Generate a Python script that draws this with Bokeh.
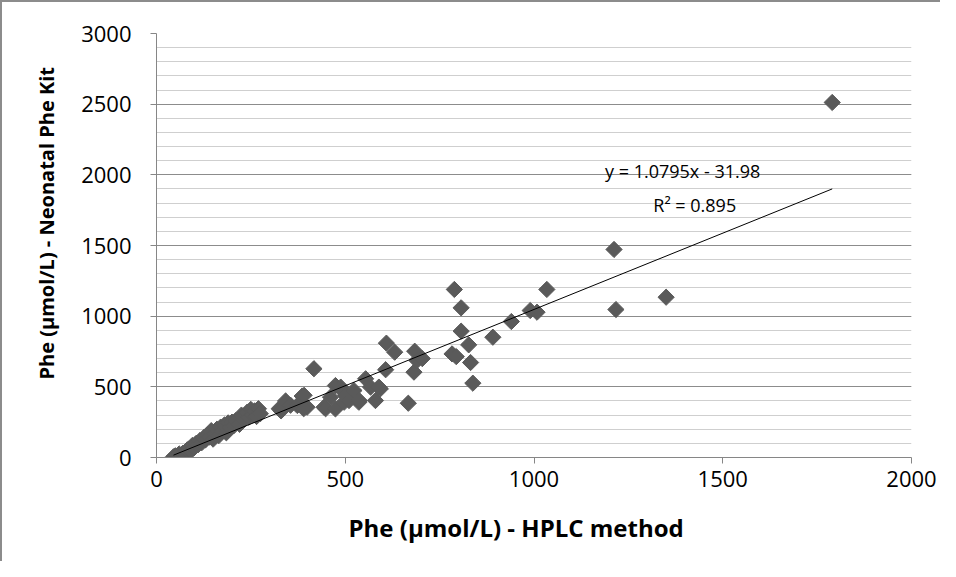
import numpy as np
from bokeh.plotting import figure
from bokeh.models import SingleIntervalTicker, Range1d, Label, InlineStyleSheet, Title
from bokeh.embed import file_html
from bokeh.resources import INLINE

# HPLC method (x) vs Neonatal Phe Kit (y), µmol/L
hplc = [45, 50, 55, 60, 65, 70, 75, 80, 85, 90, 95, 100, 105, 110, 115, 120,
        125, 130, 135, 140, 145, 150, 155, 160, 165, 170, 175, 180, 185, 190,
        195, 200, 205, 210, 220, 225, 230, 240, 245, 250, 255, 260, 265, 270, 275,
        325, 330, 342, 355, 373, 386, 391, 399, 390, 417, 444, 448, 461, 474, 474,
        488, 492, 497, 501, 510, 523, 536, 537, 554, 567, 580, 589, 593, 607, 609,
        631, 667, 682, 684, 690, 704,
        783, 794, 789, 807, 807, 827, 832, 838, 891, 940, 990, 1008, 1034,
        1212, 1217, 1350, 1790]
kit = [5, 12, 0, 25, 15, 30, 20, 50, 60, 45, 85, 70, 100, 90, 120, 105,
       140, 125, 160, 145, 190, 130, 170, 200, 155, 215, 185, 230, 175, 245,
       210, 250, 225, 260, 235, 300, 270, 320, 285, 340, 300, 330, 290, 345, 310,
       345, 330, 400, 370, 368, 435, 440, 356, 345, 628, 356, 345, 427, 509, 344,
       498, 474, 391, 439, 403, 474, 391, 403, 557, 498, 403, 498, 486, 621, 809,
       745, 384, 604, 752, 686, 700,
       733, 714, 1189, 1059, 894, 797, 672, 526, 851, 962, 1040, 1028, 1189,
       1472, 1047, 1134, 2512]

# linear trendline as shown in the chart
slope = 1.0795
intercept = -31.98
r_squared = 0.895

x_title = "Phe (µmol/L) - HPLC method"
y_title = "Phe (µmol/L) - Neonatal Phe Kit"

FONT = "Open Sans"

p = figure(width=940, height=561, output_backend="svg", toolbar_location=None,
           x_range=Range1d(0, 2000), y_range=Range1d(0, 3000),
           min_border_left=154, min_border_right=31, min_border_top=31,
           min_border_bottom=106)
p.stylesheets = [InlineStyleSheet(css=":host { border-left: 2px solid #8c8c8c; "
                                      "border-top: 2px solid #8c8c8c; }")]
p.outline_line_color = None
p.background_fill_color = "white"

# axes
p.xaxis.ticker = SingleIntervalTicker(interval=500, num_minor_ticks=0)
p.yaxis.ticker = SingleIntervalTicker(interval=500, num_minor_ticks=5)
for ax in (p.xaxis[0], p.yaxis[0]):
    ax.axis_line_color = "#868686"
    ax.major_tick_line_color = "#868686"
    ax.major_tick_in = 0
    ax.major_tick_out = 6
    ax.minor_tick_line_color = None
    ax.major_label_text_font = FONT
    ax.major_label_text_font_size = "22px"
    ax.major_label_text_color = "black"
p.yaxis.major_label_standoff = 19
p.xaxis.major_label_standoff = 7

# axis titles as side titles, so they can be shifted along the axis
xt = Title(text=x_title, align="left", offset=192, standoff=39,
           text_font=FONT, text_font_size="24px", text_font_style="bold",
           text_color="black")
yt = Title(text=y_title, align="left", offset=78, standoff=37,
           text_font=FONT, text_font_size="20px", text_font_style="bold",
           text_color="black")
p.add_layout(xt, "below")
p.add_layout(yt, "left")

# grid
p.xgrid.grid_line_color = None
p.ygrid.grid_line_color = "#8c8c8c"
p.ygrid.grid_line_width = 1
p.ygrid.minor_grid_line_color = "#cfcfcf"
p.ygrid.minor_grid_line_width = 1

# scatter
p.scatter(hplc, kit, marker="square", angle=np.pi / 4, size=11.5,
          fill_color="#5a5a5a", line_color="#5a5a5a")

# trendline across the data range
xs = np.array([min(hplc), max(hplc)])
p.line(xs, slope * xs + intercept, line_color="black", line_width=1)

eq = Label(x=1188, y=2024, text=f"y = {slope}x - {abs(intercept)}",
           text_font=FONT, text_font_size="18px", text_baseline="middle",
           text_color="black")
r2 = Label(x=1316, y=1790, text=f"R² = {r_squared}",
           text_font=FONT, text_font_size="18px", text_baseline="middle",
           text_color="black")
p.add_layout(eq)
p.add_layout(r2)

open("out.html", "w").write(file_html(p, INLINE))
